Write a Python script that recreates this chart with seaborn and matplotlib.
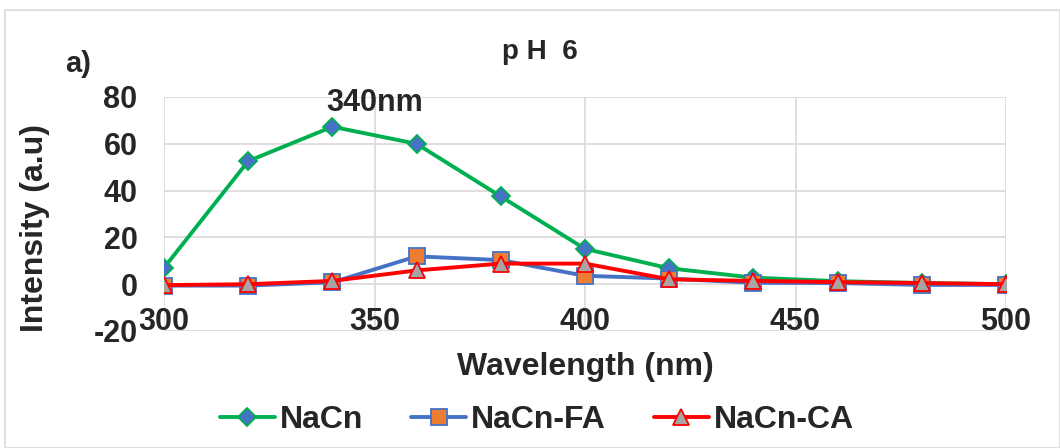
import pandas as pd
import matplotlib.pyplot as plt
import seaborn as sns
from matplotlib.patches import Rectangle

# Dados (pH 6)
wavelength = [300, 320, 340, 360, 380, 400, 420, 440, 460, 480, 500]
nacn = [7, 52.6, 67.3, 60, 37.5, 15.1, 6.8, 2.8, 1.3, 0.5, 0]
nacn_fa = [-0.6, -0.6, 0.8, 11.9, 10.3, 3.6, 2.4, 0.6, 0.5, -0.3, -0.3]
nacn_ca = [-0.4, 0, 1.4, 5.9, 8.8, 8.8, 2.1, 1.4, 0.9, 0.5, 0]
series_names = ["NaCn", "NaCn-FA", "NaCn-CA"]

df = pd.DataFrame({
    "wavelength": wavelength * 3,
    "intensity": nacn + nacn_fa + nacn_ca,
    "serie": [s for s in series_names for _ in wavelength],
})

sns.set_theme(style="white")
plt.rcParams['font.family'] = ['Liberation Sans', 'DejaVu Sans']
plt.rcParams['font.weight'] = 'bold'
plt.rcParams['axes.unicode_minus'] = False

fig = plt.figure(figsize=(10.6, 4.48), dpi=100)
ax = fig.add_axes([164 / 1060, 1 - 331 / 448, (1006 - 164) / 1060, (331 - 97) / 448])

estilos = {
    "NaCn": dict(color="#00b050", marker="D", markerfacecolor="#4472c4", markeredgecolor="#00b050", markersize=9),
    "NaCn-FA": dict(color="#4472c4", marker="s", markerfacecolor="#ed7d31", markeredgecolor="#4472c4", markersize=11),
    "NaCn-CA": dict(color="#ff0000", marker="^", markerfacecolor="#a5a5a5", markeredgecolor="#ff0000", markersize=12),
}
for nome in series_names:
    sub = df[df["serie"] == nome]
    sns.lineplot(x="wavelength", y="intensity", data=sub, ax=ax, label=nome,
                 linewidth=2.8, markeredgewidth=1.3, **estilos[nome])

ax.set_xlim(300, 500)
ax.set_ylim(-20, 80)
ax.set_xticks([300, 350, 400, 450, 500])
ax.set_yticks([-20, 0, 20, 40, 60, 80])
ax.grid(True, color="#d9d9d9", linewidth=1.2)
for s in ax.spines.values():
    s.set_visible(False)
ax.tick_params(axis="both", length=0, labelsize=22)
ax.tick_params(axis="x", pad=-17)
ax.tick_params(axis="y", pad=19)
for lbl in ax.get_xticklabels() + ax.get_yticklabels():
    lbl.set_fontweight("bold")

ax.set_xlabel("Wavelength (nm)", fontsize=23, fontweight="bold")
ax.xaxis.set_label_coords(0.5, -0.09)
ax.set_ylabel("Intensity (a.u)", fontsize=23, fontweight="bold")
ax.yaxis.set_label_coords(-0.135, 0.44)

ax.text(350, 71, "340nm", fontsize=22, fontweight="bold", ha="center", va="bottom")
fig.text(540 / 1060, 1 - 52 / 448, "p H  6", fontsize=20, fontweight="bold", ha="center", va="center")
fig.text(65 / 1060, 1 - 64 / 448, "a)", fontsize=21, fontweight="bold", ha="left", va="center")

leg = ax.legend(loc="center", bbox_to_anchor=(537 / 1060, 1 - 420 / 448), bbox_transform=fig.transFigure,
                ncol=3, frameon=False, fontsize=23, handlelength=1.72, columnspacing=1.5, handletextpad=0.16)
for t in leg.get_texts():
    t.set_fontweight("bold")

fig.patches.append(Rectangle((5 / 1060, 0), 1 - 5 / 1060, 1 - 10 / 448, transform=fig.transFigure,
                             fill=False, edgecolor="#d9d9d9", linewidth=1.2))

plt.savefig("out.png", dpi=100)
